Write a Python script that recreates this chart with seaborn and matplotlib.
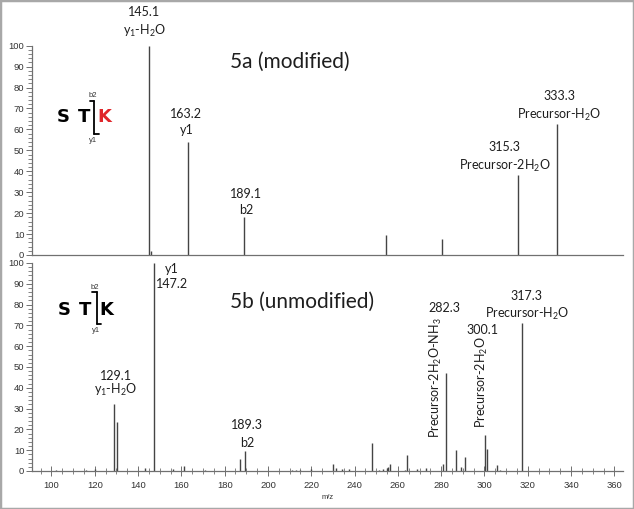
import numpy as np
import pandas as pd
import matplotlib.pyplot as plt
import seaborn as sns
from matplotlib.lines import Line2D
from matplotlib.patches import Rectangle
from matplotlib.ticker import MultipleLocator

# 5a (modified) - peaks
mz_a = [145.1, 146.1, 163.2, 189.1, 254.3, 280.2, 315.3, 333.3]
int_a = [100, 2, 54, 18.3, 9.4, 7.8, 38.4, 62.7]

# 5b (unmodified)
mz_b = [102, 116, 120, 129.1, 130.1, 143.0, 147.2, 156, 161, 171, 187.2, 189.3,
        211, 213, 215, 220, 230.0, 231.5, 234, 237.5, 248.0, 251.5, 253, 255,
        255.6, 256.5, 263.5, 264.3, 269, 273, 281.0, 282.3, 287.0, 289.0, 291.2,
        300.1, 301.0, 305.8, 307, 317.3]
int_b = [0.3, 0.5, 0.8, 32, 23.5, 1.6, 100, 0.8, 2.3, 0.3, 5.6, 9.5,
         0.3, 0.4, 0.3, 1.1, 3.2, 1.6, 0.8, 0.8, 13.7, 0.6, 0.8, 1.5,
         1.8, 3.5, 0.6, 7.7, 1.1, 1.6, 3.5, 47.1, 10.3, 2.1, 6.5,
         17.4, 10.6, 3.1, 0.3, 71.2]

# peak annotations
lab_mz_a = [145.1, 163.2, 189.1, 315.3, 333.3]
lab_txt_a = ['145.1\ny$_1$-H$_2$O', '163.2\ny1', '189.1\nb2',
             '315.3\nPrecursor-2H$_2$O', '333.3\nPrecursor-H$_2$O']
lab_mz_b = [147.2, 129.1, 189.3, 282.3, 282.3, 300.1, 300.1, 317.3]
lab_txt_b = ['y1\n147.2', '129.1\ny$_1$-H$_2$O', '189.3\nb2', '282.3',
             'Precursor-2H$_2$O-NH$_3$', '300.1', 'Precursor-2H$_2$O',
             '317.3\nPrecursor-H$_2$O']

df_a = pd.DataFrame({'mz': mz_a, 'intensity': int_a})
df_b = pd.DataFrame({'mz': mz_b, 'intensity': int_b})

sns.set_style('ticks')
plt.rcParams['font.family'] = ['Lato', 'DejaVu Sans']
plt.rcParams['mathtext.fontset'] = 'custom'
plt.rcParams['mathtext.rm'] = 'Lato'
plt.rcParams['mathtext.it'] = 'Lato:italic'
plt.rcParams['mathtext.bf'] = 'Lato:bold'

W, H = 634, 509
fig = plt.figure(figsize=(W / 100, H / 100), dpi=100)


def fx(x):
    return x / W


def fy(y):
    return 1 - y / H


ax_b = fig.add_axes([fx(32), fy(471), fx(623) - fx(32), fy(263) - fy(471)])
ax_a = fig.add_axes([fx(32), fy(255), fx(623) - fx(32), fy(45.7) - fy(255)])

for ax, df in [(ax_a, df_a), (ax_b, df_b)]:
    ax.vlines(df['mz'], 0, df['intensity'], color='#444444', lw=1.0)
    ax.set_xlim(91, 364)
    ax.set_ylim(0, 100)
    ax.set_facecolor('none')
    sns.despine(ax=ax)
    for s in ['left', 'bottom']:
        ax.spines[s].set_color('#707070')
        ax.spines[s].set_linewidth(0.9)
    ax.yaxis.set_major_locator(MultipleLocator(10))
    ax.yaxis.set_minor_locator(MultipleLocator(2))
    ax.tick_params(axis='y', which='major', length=4.5, width=0.7, color='#707070',
                   labelsize=6.8, labelcolor='#333333', pad=1)
    ax.tick_params(axis='y', which='minor', length=3, width=0.6, color='#707070')
    for t in ax.get_yticklabels():
        t.set_family('Liberation Sans')

ax_a.tick_params(axis='x', which='both', bottom=False, labelbottom=False)
ax_b.xaxis.set_major_locator(MultipleLocator(20))
ax_b.xaxis.set_minor_locator(MultipleLocator(5))
ax_b.tick_params(axis='x', which='major', direction='inout', length=6.5, width=0.7,
                 color='#707070', labelsize=6.8, labelcolor='#333333', pad=4)
ax_b.tick_params(axis='x', which='minor', direction='inout', length=4, width=0.6,
                 color='#707070')
for t in ax_b.get_xticklabels():
    t.set_family('Liberation Sans')
ax_b.set_xlabel('m/z', fontsize=5.5, color='#333333', labelpad=3,
                family='Liberation Sans')

# label style: dx, dy (pixels), ha, va, rotation, linespacing
sty_a = [(-5, 7, 'center', 'bottom', 0, 1.35),
         (-2, 6, 'center', 'bottom', 0, 1.35),
         (2, 1, 'center', 'bottom', 0, 1.35),
         (-13, 1, 'center', 'bottom', 0, 1.35),
         (3, 1, 'center', 'bottom', 0, 1.35)]
sty_b = [(2, 0, 'left', 'top', 0, 1.35),
         (1, 6, 'center', 'bottom', 0, 1.05),
         (2, 2, 'center', 'bottom', 0, 1.6),
         (-2, 65, 'center', 'center', 0, 1.2),
         (-10, -65, 'center', 'bottom', 90, 1.2),
         (-2, 105, 'center', 'center', 0, 1.2),
         (-3, 7, 'center', 'bottom', 90, 1.2),
         (5, 1, 'center', 'bottom', 0, 1.3)]

for ax, df, mzs, txts, sty in [(ax_a, df_a, lab_mz_a, lab_txt_a, sty_a),
                               (ax_b, df_b, lab_mz_b, lab_txt_b, sty_b)]:
    lookup = dict(zip(df['mz'], df['intensity']))
    for m, t, (dx, dy, ha, va, rot, ls) in zip(mzs, txts, sty):
        ax.annotate(t, xy=(m, lookup[m]), xytext=(dx, dy), textcoords='offset pixels',
                    ha=ha, va=va, rotation=rot, linespacing=ls, fontsize=9,
                    color='#1e1e1e', annotation_clip=False, multialignment='center')

fig.text(fx(230), fy(62), '5a (modified)', fontsize=15, color='#1e1e1e',
         ha='left', va='center')
fig.text(fx(230), fy(301.7), '5b (unmodified)', fontsize=15, color='#1e1e1e',
         ha='left', va='center')


def peptide(y, xs, kcolor, bx, btop, bbot):
    for x, ch, c in zip(xs, ['S', 'T', 'K'], ['black', 'black', kcolor]):
        fig.text(fx(x), fy(y), ch, fontsize=13, fontweight='bold', color=c,
                 family='DejaVu Sans', ha='center', va='center')
    pts = [((bx - 4.5, btop), (bx, btop)), ((bx, btop), (bx, bbot)),
           ((bx, bbot), (bx + 4.5, bbot))]
    for (x0, y0), (x1, y1) in pts:
        fig.add_artist(Line2D([fx(x0), fx(x1)], [fy(y0), fy(y1)], color='black', lw=1.3))
    fig.text(fx(bx - 1.5), fy(btop - 5), 'b2', fontsize=5.5, color='#333333',
             family='Liberation Sans', ha='center', va='center')
    fig.text(fx(bx - 0.5), fy(bbot + 6), 'y1', fontsize=5.5, color='#333333',
             family='Liberation Sans', ha='center', va='center')


peptide(117.5, [62.8, 84, 104.5], '#e0262b', 94, 100.5, 134.3)
peptide(310, [64.5, 85, 106.5], 'black', 96.5, 292.3, 324)

fig.add_artist(Rectangle((0, 0), 1, 1, transform=fig.transFigure, fill=False,
                         edgecolor='#a8a8a8', lw=2.5))

fig.savefig('out.png', dpi=100)
